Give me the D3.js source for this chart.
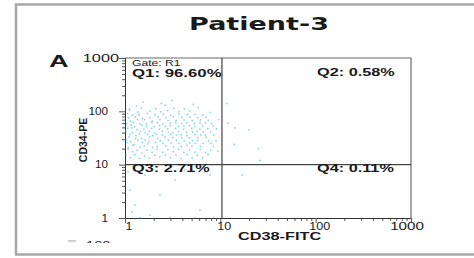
<!DOCTYPE html>
<head>
<meta charset="utf-8">
<title>Patient-3 CD34 / CD38</title>
<script src="https://d3js.org/d3.v7.min.js"></script>
<style>
  body { margin: 0; background: #fff; }
  text { font-family: "Liberation Sans", Arial, sans-serif; fill: #1a1a1a; }
</style>
</head>
<body>
<div id="chart"></div>
<script>
//--------------------------- DATA ----------------------------//
const title = "Patient-3";
const panelTag = "A";
const xLabel = "CD38-FITC";
const yLabel = "CD34-PE";
const majorTicks = [1, 10, 100, 1000];
const gateX = 10.4;   // CD38 gate
const gateY = 10;     // CD34 gate
const quadLabels = ["Q1: 96.60%", "Q2: 0.58%", "Q3: 2.71%", "Q4: 0.11%"];
const gateName = "Gate: R1";

// events: [CD38, CD34]
const eventsQ1 = [
  [1.03,15],[1.05,26],[1.02,43],[1.04,58],[1.06,91],[1.03,29.5],
  [1.08,19.5],[1.1,33],[1.07,48],[1.09,75],[1.11,110],[1.08,21],
  [1.14,13.5],[1.15,27],[1.13,37],[1.16,55],[1.14,66],[1.12,104],
  [1.2,17.5],[1.21,23],[1.19,40],[1.22,62],[1.2,85],[1.18,49],
  [1.27,15.5],[1.29,31],[1.26,51],[1.28,79],[1.25,24],[1.3,35],
  [1.34,18.5],[1.36,29],[1.33,45],[1.35,70],[1.37,97],[1.32,125],
  [1.42,13],[1.44,21.5],[1.41,37.5],[1.43,58],[1.45,42],[1.4,86],
  [1.5,16.5],[1.52,26],[1.49,31],[1.51,55],[1.53,74],[1.48,115],
  [1.6,14.5],[1.62,29],[1.58,46],[1.61,70],[1.63,40],[1.59,22.5],
  [1.7,19],[1.72,37],[1.68,58],[1.71,91],[1.73,24.5],[1.69,52],
  [1.8,13.2],[1.82,33],[1.79,42],[1.81,75],[1.83,102],[1.78,27],
  [1.92,17],[1.94,21],[1.9,48],[1.93,66],[1.95,35],[1.91,62],
  [2.05,15],[2.08,26],[2.03,52],[2.06,86],[2.1,112],[2.04,40],
  [2.18,19.5],[2.2,31],[2.16,37],[2.19,61],[2.22,79],[2.17,22],
  [2.32,13.8],[2.35,28],[2.3,46],[2.33,70],[2.36,98],[2.31,54],
  [2.48,17],[2.5,25],[2.46,42],[2.49,58],[2.52,89],[2.47,36],
  [2.65,15.2],[2.67,22.5],[2.63,33],[2.66,52],[2.68,76],[2.64,130],
  [2.82,19],[2.85,29],[2.8,47],[2.83,67],[2.86,41],[2.81,103],
  [3.0,13.5],[3.03,37],[2.98,60],[3.02,85],[3.05,25.5],[2.99,54],
  [3.2,17.5],[3.23,21.5],[3.18,40],[3.21,79],[3.25,114],[3.19,32],
  [3.42,15],[3.45,28.5],[3.4,48],[3.43,67],[3.46,36],[3.41,61],
  [3.65,19.5],[3.68,25],[3.63,52],[3.66,90],[3.7,99],[3.64,42],
  [3.9,13],[3.93,32],[3.88,36.5],[3.91,59],[3.95,77],[3.89,22],
  [4.15,17],[4.18,28],[4.12,46],[4.16,69],[4.2,110],[4.14,53],
  [4.45,15.5],[4.48,23],[4.42,41],[4.46,61],[4.5,87],[4.44,35],
  [4.75,19],[4.78,25.5],[4.72,32],[4.76,54],[4.8,78],[4.74,101],
  [5.05,13.4],[5.1,28],[5.02,48],[5.07,67],[5.12,40.5],[5.04,22],
  [5.4,17.2],[5.45,37],[5.36,59],[5.42,88],[5.48,25],[5.38,52],
  [5.75,15],[5.8,32],[5.7,42],[5.78,76],[5.85,116],[5.72,28.5],
  [6.15,19.5],[6.2,22],[6.1,46],[6.18,69],[6.25,36],[6.12,60],
  [6.55,13.6],[6.6,25],[6.5,53],[6.58,86],[6.62,41],
  [7.0,17],[7.05,32.5],[6.95,36],[7.02,61],[7.1,78],
  [7.45,15.5],[7.5,28],[7.4,47],[7.48,68],
  [7.95,19],[8.0,25],[7.9,41],[8.05,59],
  [8.5,22],[8.55,36],[8.45,53],
  [9.0,28],[9.1,47],
  [1.55,150],[3.1,160],[2.4,140],[5.2,135],[7.8,95],[9.4,18],[9.6,70]
];
const eventsQ2 = [[11.7,140],[12,60],[14.3,49],[20,45],[25,20],[26,12],[14,24]];
const eventsQ3 = [
  [1.075,7.3],[1.13,3.35],[1.62,6.4],[2.33,2.7],[3.35,5.2],[1.27,1.75],[1.83,1.14],
  [4.26,8.0],[6.1,1.41],[7.8,6.4],[1.44,1.02],[2.96,1.02],[5.4,1.02],[1.18,1.3],[8.5,1.02]
];
const eventsQ4 = [[17,6.4]];

//--------------------------- SVG -----------------------------//
const W = 474, H = 258;
const svg = d3.select("#chart").append("svg")
    .attr("width", W)
    .attr("height", H);

// outer frame of the figure
svg.append("rect")
    .attr("x", 16).attr("y", 4.5)
    .attr("width", 500).attr("height", 250)
    .attr("fill", "none")
    .attr("stroke", "#a8a8a8")
    .attr("stroke-width", 2.5);

const x = d3.scaleLog().domain([1, 1000]).range([125, 411]);
const y = d3.scaleLog().domain([1, 1000]).range([218, 58]);

const minorTicks = [];
[1, 10, 100].forEach(function(d) {
  for (let k = 2; k <= 9; k++) minorTicks.push(d * k);
});

// stretched text, the original figure is wider than tall
function label(g, px, py, txt, size, weight, sx, anchor) {
  return g.append("text")
    .attr("transform", "translate(" + px + "," + py + ") scale(" + sx + ",1)")
    .attr("text-anchor", anchor || "start")
    .style("font-size", size + "px")
    .style("font-weight", weight)
    .text(txt);
}

//------------------------- TITLES ----------------------------//
label(svg, 259, 30, title, 20, "bold", 1.5, "middle")
    .style("font-family", "'DejaVu Sans', sans-serif").style("font-size", "18px");
label(svg, 49, 67, panelTag, 17, "bold", 1.6);

//--------------------------- AXES ----------------------------//
// plot frame: top / right
svg.append("path")
    .attr("d", "M" + x(1) + "," + y(1000) + "H" + x(1000) + "V" + y(1))
    .attr("fill", "none")
    .attr("stroke", "#6a6a6a")
    .attr("stroke-width", 1.2);

const yAxisMinor = d3.axisLeft(y).tickValues(minorTicks).tickSize(3).tickFormat("");
const yAxisMajor = d3.axisLeft(y).tickValues(majorTicks).tickSize(6).tickFormat("");
const xAxisMinor = d3.axisBottom(x).tickValues(minorTicks).tickSize(3).tickFormat("");
const xAxisMajor = d3.axisBottom(x).tickValues(majorTicks).tickSize(5).tickFormat("");

[yAxisMinor, yAxisMajor].forEach(function(a) {
  svg.append("g").attr("transform", "translate(" + x(1) + ",0)").call(a)
    .call(function(g) { g.selectAll("line").attr("stroke", "#555"); })
    .select(".domain").attr("stroke", "#333");
});
[xAxisMinor, xAxisMajor].forEach(function(a) {
  svg.append("g").attr("transform", "translate(0," + y(1) + ")").call(a)
    .call(function(g) { g.selectAll("line").attr("stroke", "#555"); })
    .select(".domain").attr("stroke", "#333");
});

// tick labels
majorTicks.forEach(function(v) {
  const t = String(v);
  if (t === "1000") {
    label(svg, 119, y(v) + 3.5, t, 10.5, "normal", 1.55, "end");
    label(svg, 424, 230, t, 10.5, "normal", 1.45, "end");
  } else {
    label(svg, 108, y(v) + 3.5, t, 10.5, "normal", 1.12, "end");
    label(svg, x(v) + 4, 230, t, 10.5, "normal", 1.2, "middle");
  }
});

// axis titles
label(svg, 238, 240, xLabel, 10.5, "bold", 1.55);
svg.append("text")
    .attr("transform", "translate(87," + 140 + ") rotate(-90)")
    .attr("text-anchor", "middle")
    .style("font-size", "10.5px")
    .style("font-weight", "bold")
    .text(yLabel);

//-------------------------- POINTS ---------------------------//
const allEvents = eventsQ1.concat(eventsQ2, eventsQ3, eventsQ4);
svg.append("g").selectAll("rect")
    .data(allEvents)
    .enter()
    .append("rect")
    .attr("x", function(d) { return x(d[0]) - 0.75; })
    .attr("y", function(d) { return y(d[1]) - 0.75; })
    .attr("width", 1.5)
    .attr("height", 1.5)
    .attr("fill", "#4cc0ee")
    .attr("opacity", 0.75);

//--------------------------- GATE ----------------------------//
svg.append("line")
    .attr("x1", x(gateX)).attr("x2", x(gateX))
    .attr("y1", y(1000)).attr("y2", y(1))
    .attr("stroke", "#444").attr("stroke-width", 1.2);
svg.append("line")
    .attr("x1", x(1)).attr("x2", x(1000))
    .attr("y1", y(gateY)).attr("y2", y(gateY))
    .attr("stroke", "#444").attr("stroke-width", 1.2);

label(svg, 132, 65.5, gateName, 9, "normal", 1.35);
label(svg, 132, 77, quadLabels[0], 10.5, "bold", 1.6);
label(svg, 317, 76, quadLabels[1], 10.5, "bold", 1.55);
label(svg, 132, 172, quadLabels[2], 10.5, "bold", 1.55);
label(svg, 317, 172, quadLabels[3], 10.5, "bold", 1.55);

//------------------ cut-off edge of next panel ----------------//
svg.append("clipPath").attr("id", "cut")
    .append("rect").attr("x", 0).attr("y", 236).attr("width", W).attr("height", 7);
const cut = svg.append("g").attr("clip-path", "url(#cut)");
cut.append("line").attr("x1", 68).attr("x2", 76).attr("y1", 241).attr("y2", 241)
    .attr("stroke", "#999");
label(cut, 86, 249, "100", 10.5, "normal", 1.4).style("fill", "#333");
</script>
</body>
